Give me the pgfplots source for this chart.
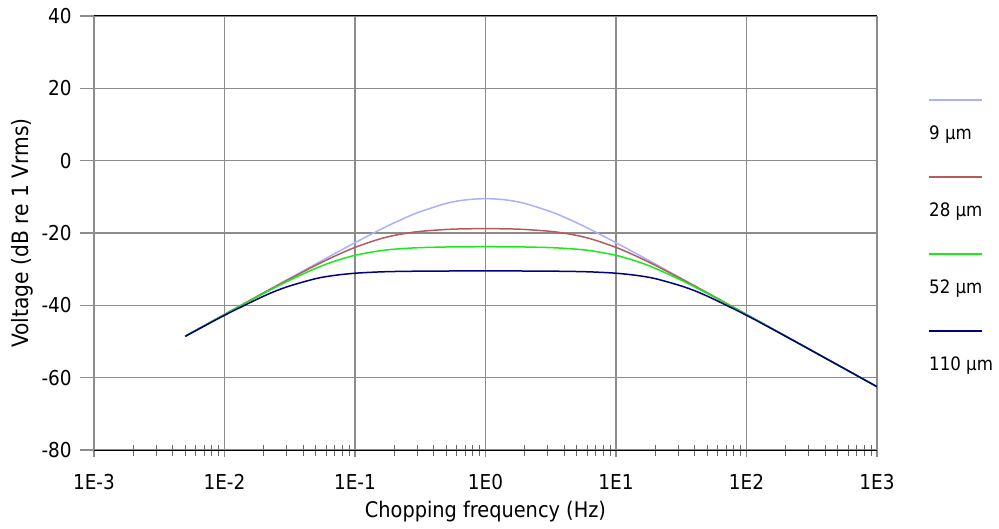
\documentclass[border=0pt]{standalone}
\usepackage{fontspec}
\setmainfont{DejaVu Sans Condensed}
\usepackage{pgfplots}
\pgfplotsset{compat=1.18}
\usepackage{pgfplotstable}
\definecolor{cnine}{RGB}{170,175,255}
\definecolor{ctwentyeight}{RGB}{180,92,92}
\definecolor{cfiftytwo}{RGB}{25,235,25}
\definecolor{conehundredten}{RGB}{0,0,128}
\definecolor{gridgray}{RGB}{140,140,140}

\pgfplotstableread{
f        a       b       c       d
0.005   -48.52  -48.52  -48.53  -48.59
0.01    -42.50  -42.52  -42.56  -42.76
0.02    -36.49  -36.55  -36.70  -37.45
0.03    -32.98  -33.12  -33.45  -34.91
0.05    -28.57  -28.94  -29.76  -32.62
0.07    -25.69  -26.39  -27.78  -31.71
0.1     -22.68  -23.98  -26.17  -31.12
0.15    -19.38  -21.80  -24.99  -30.78
0.2     -17.18  -20.67  -24.48  -30.65
0.3     -14.41  -19.64  -24.08  -30.56
0.5     -11.82  -19.02  -23.87  -30.51
0.7     -10.85  -18.85  -23.82  -30.50
1       -10.50  -18.80  -23.79  -30.50
1.4286  -10.85  -18.85  -23.82  -30.50
2       -11.82  -19.02  -23.87  -30.51
3.3333  -14.41  -19.64  -24.08  -30.56
5       -17.18  -20.67  -24.48  -30.65
6.6667  -19.38  -21.80  -24.99  -30.78
10      -22.68  -23.98  -26.17  -31.12
14.286  -25.69  -26.39  -27.78  -31.71
20      -28.57  -28.94  -29.76  -32.62
33.333  -32.98  -33.12  -33.45  -34.91
50      -36.49  -36.55  -36.70  -37.45
100     -42.50  -42.52  -42.56  -42.76
200     -48.52  -48.52  -48.53  -48.59
500     -56.48  -56.48  -56.48  -56.49
1000    -62.50  -62.50  -62.50  -62.50
}\datatable

\begin{document}
\begin{tikzpicture}
\path[use as bounding box] (-94bp,-79bp) rectangle (905bp,450bp);
\begin{axis}[
  at={(0,0)}, anchor=south west,
  width=783bp, height=434bp, scale only axis,
  xmode=log, xmin=1e-3, xmax=1e3, ymin=-80, ymax=40,
  xtick={1e-3,1e-2,1e-1,1,10,100,1000},
  xticklabels={1E-3,1E-2,1E-1,1E0,1E1,1E2,1E3},
  minor xtick={2e-3,3e-3,4e-3,5e-3,6e-3,7e-3,8e-3,9e-3,
               2e-2,3e-2,4e-2,5e-2,6e-2,7e-2,8e-2,9e-2,
               2e-1,3e-1,4e-1,5e-1,6e-1,7e-1,8e-1,9e-1,
               2,3,4,5,6,7,8,9,20,30,40,50,60,70,80,90,
               200,300,400,500,600,700,800,900},
  ytick={-80,-60,-40,-20,0,20,40},
  yticklabels={-80,-60,-40,-20,0,20,40},
  grid=major,
  major grid style={gridgray, line width=1.4bp},
  minor grid style={draw=none},
  separate axis lines,
  x axis line style={black, line width=1bp},
  y axis line style={gridgray, line width=1.4bp},
  tick align=center,
  xtick pos=bottom, ytick pos=left,
  xtick style={/pgfplots/major tick length=14bp, /pgfplots/minor tick length=11bp},
  ytick style={/pgfplots/major tick length=28bp},
  major x tick style={gridgray, line width=1.4bp},
  minor x tick style={black!60, line width=0.9bp},
  major y tick style={gridgray, line width=1.4bp},
  xticklabel style={font=\fontsize{20.5bp}{24bp}\selectfont, inner sep=0pt, anchor=north},
  yticklabel style={font=\fontsize{20.5bp}{24bp}\selectfont, inner sep=0pt, anchor=east},
  xticklabel shift=22bp,
  yticklabel shift=20bp,
  xlabel={Chopping frequency (Hz)},
  ylabel={Voltage (dB re 1 Vrms)},
  xlabel style={font=\fontsize{21.5bp}{25bp}\selectfont, inner sep=0pt, at={(axis description cs:0.5,-0.1429)}, anchor=center},
  ylabel style={font=\fontsize{22.5bp}{26bp}\selectfont, inner sep=0pt, at={(axis description cs:-0.092,0.5)}, anchor=center, rotate=0},
  legend style={draw=none, fill=none, at={(rel axis cs:1,1)}, anchor=north west,
    xshift=52bp, yshift=-109bp, inner sep=0pt, row sep=59bp, column sep=0pt,
    font=\fontsize{18.5bp}{22bp}\selectfont,
    nodes={inner sep=0pt, text height=14bp, text depth=4bp}},
  legend cell align=left,
  legend image code/.code={\draw[#1, overlay, line width=1.5bp] (0bp,34bp) -- (53bp,34bp);},
  every axis plot/.append style={line width=1.5bp},
]
\addplot[cnine, smooth] table[x=f, y=a] {\datatable};
\addlegendentry{9 µm}
\addplot[ctwentyeight, smooth] table[x=f, y=b] {\datatable};
\addlegendentry{28 µm}
\addplot[cfiftytwo, smooth] table[x=f, y=c] {\datatable};
\addlegendentry{52 µm}
\addplot[conehundredten, smooth] table[x=f, y=d] {\datatable};
\addlegendentry{110 µm}
\end{axis}
\end{tikzpicture}
\end{document}
